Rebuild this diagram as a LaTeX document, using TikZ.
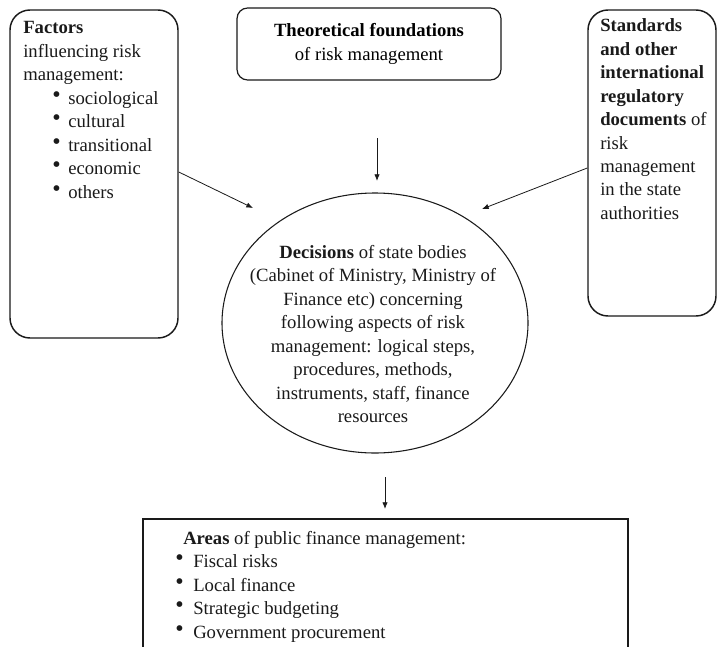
\documentclass[tikz,border=0pt]{standalone}
\usepackage{fontspec}
\setmainfont{Liberation Serif}
\usetikzlibrary{arrows.meta,positioning,shapes.geometric}
\definecolor{ink}{HTML}{1A1A1A}
\newcommand{\bodyfont}{\fontsize{14}{17.6}\selectfont}
\newcommand{\bul}[3]{\hspace*{#1}\makebox[#2][l]{\raisebox{1.5pt}{\fontsize{18}{18}\selectfont\textbullet}}#3}
\tikzset{
  sidebox/.style={draw=ink,line width=1.1pt,rounded corners=15pt,inner sep=0pt},
  topbox/.style={draw=ink,line width=0.9pt,rounded corners=8pt,
                 align=center,font=\bodyfont,inner sep=0pt},
  decoval/.style={draw=ink,line width=0.8pt,ellipse,inner sep=0pt},
  areabox/.style={draw=ink,line width=1.2pt,inner sep=0pt},
  boxtext/.style={align=left,inner sep=0pt,font=\bodyfont,text=ink},
  flowarr/.style={-{Latex[length=5pt,width=4pt]},line width=0.6pt,color=ink}
}

\begin{document}
\begin{tikzpicture}[x=0.75pt,y=-0.75pt]
  \useasboundingbox (0,0) rectangle (717,646);
  \fill[white] (0,0) rectangle (717,646);
  \clip (0,0) rectangle (717,646);

  \node[sidebox,minimum width=126pt,minimum height=246pt] (fact) at (94,174) {};
  \node[boxtext,anchor=north west] (facttxt) at (23,21.5)
    {\textbf{Factors}\\influencing risk\\management:\\
     \bul{21.75pt}{12pt}{sociological}\\
     \bul{21.75pt}{12pt}{cultural}\\
     \bul{21.75pt}{12pt}{transitional}\\
     \bul{21.75pt}{12pt}{economic}\\
     \bul{21.75pt}{12pt}{others}};

  \node[topbox,minimum width=198pt,minimum height=54pt] (theory) at (369,44)
    {\textbf{Theoretical foundations}\\of risk management};

  \node[sidebox,minimum width=96pt,minimum height=229.5pt] (stand) at (652,163) {};
  \node[boxtext,anchor=north west] (standtxt) at (600,18.5)
    {\textbf{Standards}\\\textbf{and other}\\\textbf{international}\\\textbf{regulatory}\\
     \textbf{documents} of\\risk\\management\\in the state\\authorities};

  \node[decoval,minimum width=229.5pt,minimum height=195pt] (dec) at (375,323) {};
  \node[boxtext,align=center] (dectxt) at (373,334)
    {\textbf{Decisions} of state bodies\\(Cabinet of Ministry, Ministry of\\
     Finance etc) concerning\\following aspects of risk\\
     management: logical steps,\\procedures, methods,\\
     instruments, staff, finance\\resources};

  \node[areabox,minimum width=363.75pt,minimum height=150pt,anchor=north] (area) at (385.5,518) {};
  \node[boxtext,anchor=north west] (areatxt) at (175,531)
    {\hspace*{6pt}\textbf{Areas} of public finance management:\\
     \bul{0pt}{13.5pt}{Fiscal risks}\\
     \bul{0pt}{13.5pt}{Local finance}\\
     \bul{0pt}{13.5pt}{Strategic budgeting}\\
     \bul{0pt}{13.5pt}{Government procurement}};

  \coordinate (factend) at (253,208);
  \coordinate (standend) at (482,209);
  \coordinate (theorystart) at (377,138);
  \coordinate (theoryend) at (377,181);
  \coordinate (areastart) at (385,477);
  \coordinate (areaend) at (385,509);
  \draw[flowarr] ([yshift=1.5pt]fact.east) -- (factend);
  \draw[flowarr] ([yshift=-3.75pt]stand.west) -- (standend);
  \draw[flowarr] (theorystart) -- (theoryend);
  \draw[flowarr] (areastart) -- (areaend);
\end{tikzpicture}
\end{document}
